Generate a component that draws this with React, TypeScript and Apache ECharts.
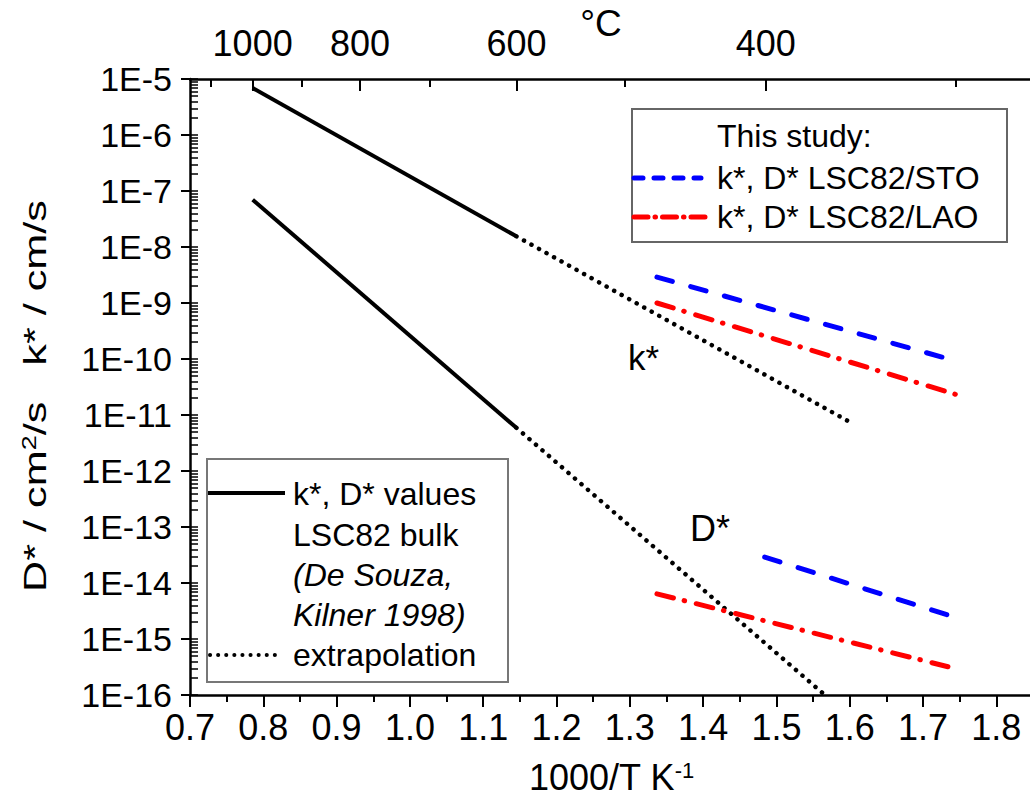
import React, { useEffect, useRef } from "react";
import * as echarts from "echarts";

// ---- axis ranges & ticks ----
const xMin = 0.7;
const xMax = 1.85;
const yMin = 1e-16;
const yMax = 1e-5;
const xTicks = [0.7, 0.8, 0.9, 1.0, 1.1, 1.2, 1.3, 1.4, 1.5, 1.6, 1.7, 1.8];
const xMinorTicks = [0.75, 0.85, 0.95, 1.05, 1.15, 1.25, 1.35, 1.45, 1.55, 1.65, 1.75, 1.85];
const yTicks = [1e-5, 1e-6, 1e-7, 1e-8, 1e-9, 1e-10, 1e-11, 1e-12, 1e-13, 1e-14, 1e-15, 1e-16];
const yExponents = [-16, -15, -14, -13, -12, -11, -10, -9, -8, -7, -6];
const yMantissas = [2, 3, 4, 5, 6, 7, 8, 9];
const tempMajor = [1000, 800, 600, 400]; // °C, labelled
const tempMinor = [1100, 900, 700, 500, 300]; // °C, unlabelled

// ---- series (x = 1000/T in K^-1, y = k* cm/s or D* cm^2/s) ----
const kBulkX = [0.7855, 1.1453];
const kBulkY = [6.9e-6, 1.55e-8];
const kExtrapX = [1.1453, 1.6];
const kExtrapY = [1.55e-8, 7.5e-12];
const dBulkX = [0.7855, 1.1453];
const dBulkY = [7.0e-8, 5.9e-12];
const dExtrapX = [1.1453, 1.566];
const dExtrapY = [5.9e-12, 1.0e-16];
const kStoX = [1.337, 1.74];
const kStoY = [2.9e-9, 9.6e-11];
const kLaoX = [1.337, 1.746];
const kLaoY = [1.0e-9, 2.3e-11];
const dStoX = [1.484, 1.733];
const dStoY = [2.9e-14, 2.7e-15];
const dLaoX = [1.337, 1.734];
const dLaoY = [6.4e-15, 3.2e-16];

const FONT = "'Liberation Sans', Arial, sans-serif";
const BLUE = "#0000ff";
const RED = "#ff0000";

const zip = (xs: number[], ys: number[]) => xs.map((x, i) => [x, ys[i]]);
const toInvT = (c: number) => 1000 / (c + 273.15);

const yMinor: number[] = [];
yExponents.forEach((e) => yMantissas.forEach((m) => yMinor.push(Number(`${m}e${e}`))));

const solid = { color: "#000", width: 4, type: "solid" };
const dotted = { color: "#000", width: 4.5, type: [0.1, 8.5], cap: "round" };
const dashed = { color: BLUE, width: 5, type: [16, 19], cap: "round" };
const dashDot = { color: RED, width: 5, type: [17, 11, 0.5, 12], cap: "round" };

function line(name: string, xs: number[], ys: number[], ls: any) {
  return {
    name,
    type: "line",
    xAxisIndex: 0,
    yAxisIndex: 0,
    data: zip(xs, ys),
    symbol: "none",
    showSymbol: false,
    lineStyle: ls,
    z: 3,
  };
}

const axisLineStyle = { color: "#000", width: 2.5 };
const tickStyle = { color: "#000", width: 2 };

const option: any = {
  animation: false,
  backgroundColor: "#ffffff",
  grid: { left: 190, top: 79, width: 843, height: 616, containLabel: false, outerBoundsMode: "none" },
  xAxis: [
    {
      type: "value",
      position: "bottom",
      min: xMin,
      max: xMax,
      axisLine: { show: true, onZero: false, lineStyle: axisLineStyle },
      axisTick: { show: true, length: 12, lineStyle: tickStyle, customValues: xTicks },
      axisLabel: {
        customValues: xTicks,
        formatter: (v: number) => v.toFixed(1),
        fontSize: 36,
        fontFamily: FONT,
        color: "#000",
        margin: 14,
      },
      splitLine: { show: false },
      name: "1000/T K{sup|-1}",
      nameLocation: "middle",
      nameGap: 64,
      nameTextStyle: {
        fontSize: 36,
        fontFamily: FONT,
        color: "#000",
        rich: { sup: { fontSize: 22, fontFamily: FONT, color: "#000", verticalAlign: "top" } },
      },
    },
    {
      type: "value",
      position: "bottom",
      min: xMin,
      max: xMax,
      axisLine: { show: false, onZero: false },
      axisTick: { show: true, length: 7, lineStyle: tickStyle, customValues: xMinorTicks },
      axisLabel: { show: false },
      splitLine: { show: false },
    },
    {
      type: "value",
      position: "top",
      min: xMin,
      max: xMax,
      axisLine: { show: true, onZero: false, lineStyle: axisLineStyle },
      axisTick: { show: true, inside: true, length: 12, lineStyle: tickStyle, customValues: tempMajor.map(toInvT) },
      axisLabel: {
        customValues: tempMajor.map(toInvT),
        formatter: (v: number) => String(Math.round(1000 / v - 273.15)),
        fontSize: 36,
        fontFamily: FONT,
        color: "#000",
        margin: 18,
      },
      splitLine: { show: false },
    },
    {
      type: "value",
      position: "top",
      min: xMin,
      max: xMax,
      axisLine: { show: false, onZero: false },
      axisTick: { show: true, inside: true, length: 8, lineStyle: tickStyle, customValues: tempMinor.map(toInvT) },
      axisLabel: { show: false },
      splitLine: { show: false },
    },
  ],
  yAxis: [
    {
      type: "log",
      logBase: 10,
      position: "left",
      min: yMin,
      max: yMax,
      axisLine: { show: true, onZero: false, lineStyle: axisLineStyle },
      axisTick: { show: true, length: 9, lineStyle: tickStyle, customValues: yTicks },
      axisLabel: {
        customValues: yTicks,
        formatter: (v: number) => `1E${Math.round(Math.log10(v))}`,
        fontSize: 34,
        fontFamily: FONT,
        color: "#000",
        margin: 18,
      },
      splitLine: { show: false },
    },
    {
      type: "log",
      logBase: 10,
      position: "left",
      min: yMin,
      max: yMax,
      axisLine: { show: false, onZero: false },
      axisTick: { show: true, inside: true, length: 8, lineStyle: { color: "#000", width: 1.5 }, customValues: yTicks.concat(yMinor) },
      axisLabel: { show: false },
      splitLine: { show: false },
    },
  ],
  series: [
    line("k* bulk", kBulkX, kBulkY, solid),
    line("k* extrapolation", kExtrapX, kExtrapY, dotted),
    line("D* bulk", dBulkX, dBulkY, solid),
    line("D* extrapolation", dExtrapX, dExtrapY, dotted),
    line("k* LSC82/STO", kStoX, kStoY, dashed),
    line("k* LSC82/LAO", kLaoX, kLaoY, dashDot),
    line("D* LSC82/STO", dStoX, dStoY, dashed),
    line("D* LSC82/LAO", dLaoX, dLaoY, dashDot),
  ],
  graphic: [
    // y-axis title
    {
      type: "text",
      x: 35,
      y: 396,
      rotation: Math.PI / 2,
      scaleX: 1.35,
      z: 100,
      style: {
        text: "D* / cm{sup|2}/s   k* / cm/s",
        fontSize: 32,
        fontFamily: FONT,
        fill: "#000",
        align: "center",
        verticalAlign: "middle",
        rich: { sup: { fontSize: 20, fontFamily: FONT, fill: "#000", verticalAlign: "top" } },
      },
    },
    // °C
    { type: "text", x: 601, y: 23, z: 100, style: { text: "°C", fontSize: 37, fontFamily: FONT, fill: "#000", align: "center", verticalAlign: "middle" } },
    // in-plot labels
    { type: "text", x: 628, y: 357, z: 100, style: { text: "k*", fontSize: 35, fontFamily: FONT, fill: "#000", align: "left", verticalAlign: "middle" } },
    { type: "text", x: 690, y: 528, z: 100, style: { text: "D*", fontSize: 36, fontFamily: FONT, fill: "#000", align: "left", verticalAlign: "middle" } },
    // legend 1
    { type: "rect", z: 100, shape: { x: 632, y: 109, width: 375, height: 133 }, style: { fill: "#fff", stroke: "#666", lineWidth: 2 } },
    { type: "text", x: 717, y: 136, z: 101, style: { text: "This study:", fontSize: 32, fontFamily: FONT, fill: "#000", verticalAlign: "middle" } },
    { type: "line", z: 101, shape: { x1: 634, y1: 178, x2: 701, y2: 178 }, style: { stroke: BLUE, lineWidth: 5, lineDash: [9, 11], lineCap: "round" } },
    { type: "text", x: 717, y: 178, z: 101, style: { text: "k*, D* LSC82/STO", fontSize: 32, fontFamily: FONT, fill: "#000", verticalAlign: "middle" } },
    { type: "line", z: 101, shape: { x1: 634, y1: 217, x2: 708, y2: 217 }, style: { stroke: RED, lineWidth: 5, lineDash: [14, 7, 0.5, 7], lineCap: "round" } },
    { type: "text", x: 717, y: 217, z: 101, style: { text: "k*, D* LSC82/LAO", fontSize: 32, fontFamily: FONT, fill: "#000", verticalAlign: "middle" } },
    // legend 2
    { type: "rect", z: 100, shape: { x: 207, y: 459, width: 301, height: 223 }, style: { fill: "#fff", stroke: "#777", lineWidth: 2 } },
    { type: "line", z: 101, shape: { x1: 208, y1: 493, x2: 285, y2: 493 }, style: { stroke: "#000", lineWidth: 4 } },
    { type: "text", x: 293, y: 494, z: 101, style: { text: "k*, D* values", fontSize: 32, fontFamily: FONT, fill: "#000", verticalAlign: "middle" } },
    { type: "text", x: 293, y: 535, z: 101, style: { text: "LSC82 bulk", fontSize: 32, fontFamily: FONT, fill: "#000", verticalAlign: "middle" } },
    { type: "text", x: 293, y: 575, z: 101, style: { text: "(De Souza,", fontSize: 32, fontStyle: "italic", fontFamily: FONT, fill: "#000", verticalAlign: "middle" } },
    { type: "text", x: 293, y: 615, z: 101, style: { text: "Kilner 1998)", fontSize: 32, fontStyle: "italic", fontFamily: FONT, fill: "#000", verticalAlign: "middle" } },
    { type: "line", z: 101, shape: { x1: 210, y1: 655, x2: 280, y2: 655 }, style: { stroke: "#000", lineWidth: 4, lineDash: [0.1, 8], lineCap: "round" } },
    { type: "text", x: 293, y: 655, z: 101, style: { text: "extrapolation", fontSize: 32, fontFamily: FONT, fill: "#000", verticalAlign: "middle" } },
  ],
};

export default function App() {
  const ref = useRef<HTMLDivElement>(null);
  useEffect(() => {
    if (!ref.current) return;
    const chart = echarts.init(ref.current, null, { renderer: "svg", width: 1030, height: 811 });
    chart.setOption(option);
    return () => chart.dispose();
  }, []);
  return (
    <div
      ref={ref}
      style={{ position: "absolute", left: 0, top: 0, width: 1030, height: 811, background: "#fff" }}
    />
  );
}
